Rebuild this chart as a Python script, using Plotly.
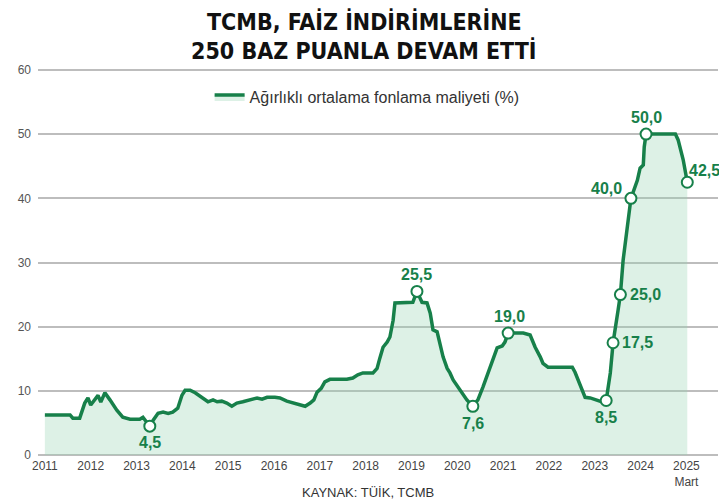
import plotly.graph_objects as go

# Decimal-year positions and values
years = [2011.00, 2011.55, 2011.61, 2011.76, 2011.87, 2011.94, 2012.00, 2012.16, 2012.22, 2012.31,
         2012.42, 2012.57, 2012.70, 2012.86, 2013.07, 2013.14, 2013.29, 2013.36, 2013.47, 2013.58,
         2013.69, 2013.79, 2013.90, 2013.99, 2014.06, 2014.17, 2014.28, 2014.43, 2014.56, 2014.67,
         2014.76, 2014.86, 2014.97, 2015.08, 2015.19, 2015.32, 2015.48, 2015.63, 2015.74, 2015.85,
         2016.02, 2016.13, 2016.28, 2016.41, 2016.57, 2016.68, 2016.79, 2016.87, 2016.94, 2017.03,
         2017.11, 2017.22, 2017.59, 2017.72, 2017.83, 2017.94, 2018.16, 2018.25, 2018.31, 2018.38,
         2018.47, 2018.53, 2018.60, 2018.64, 2019.03, 2019.12, 2019.23, 2019.34, 2019.41, 2019.47,
         2019.56, 2019.62, 2019.69, 2019.78, 2019.84, 2019.91, 2020.06, 2020.21, 2020.34, 2020.45,
         2020.56, 2020.72, 2020.87, 2020.98, 2021.04, 2021.11, 2021.22, 2021.44, 2021.59, 2021.70,
         2021.81, 2021.87, 2021.98, 2022.51, 2022.57, 2022.68, 2022.79, 2022.90, 2023.05, 2023.16,
         2023.25, 2023.34, 2023.38, 2023.40, 2023.51, 2023.56, 2023.62, 2023.71, 2023.79, 2023.93,
         2023.99, 2024.06, 2024.08, 2024.12, 2024.76, 2024.82, 2024.93, 2025.02]
rates = [6.25, 6.25, 5.75, 5.75, 8.1, 8.9, 7.8, 9.3, 8.25, 9.7,
         8.6, 7.0, 5.9, 5.6, 5.6, 5.9, 4.5, 5.4, 6.5, 6.7,
         6.5, 6.7, 7.3, 9.3, 10.1, 10.1, 9.7, 8.9, 8.3, 8.6,
         8.3, 8.4, 8.1, 7.6, 8.1, 8.3, 8.6, 8.9, 8.7, 9.0,
         9.0, 8.9, 8.4, 8.1, 7.8, 7.6, 8.1, 8.6, 9.8, 10.4,
         11.4, 11.8, 11.8, 12.0, 12.5, 12.8, 12.8, 13.5, 15.1, 16.8,
         17.6, 18.4, 21.0, 23.7, 23.8, 25.5, 23.8, 23.7, 22.1, 19.5,
         19.2, 17.4, 15.3, 13.5, 12.8, 11.7, 10.1, 8.6, 7.6, 8.6,
         10.6, 13.7, 16.7, 17.0, 17.6, 19.0, 19.0, 19.0, 18.7, 16.8,
         15.3, 14.3, 13.7, 13.7, 12.9, 10.9, 9.0, 8.9, 8.6, 8.3,
         8.5, 12.8, 15.9, 17.5, 22.6, 25.0, 30.4, 35.5, 40.0, 42.8,
         44.7, 45.2, 48.0, 50.0, 50.0, 49.1, 46.0, 42.5]

# Highlighted points
mark_years = [2013.29, 2019.12, 2020.34, 2021.11, 2023.25, 2023.40, 2023.56, 2023.79, 2024.12, 2025.02]
mark_rates = [4.5, 25.5, 7.6, 19.0, 8.5, 17.5, 25.0, 40.0, 50.0, 42.5]
mark_labels = ["4,5", "25,5", "7,6", "19,0", "8,5", "17,5", "25,0", "40,0", "50,0", "42,5"]

# label placement (style only): anchor, x shift, y shift in px
label_style = [("center", 0, -16), ("center", 0, 17), ("center", 0, -17), ("center", 1, 17),
               ("center", 0, -17), ("left", 7, 0), ("left", 8, 0), ("right", -7, 10),
               ("center", 0, 17), ("left", 0, 12)]

tick_years = list(range(2011, 2026))
tick_labels = [str(y) for y in range(2011, 2025)] + ["2025<br>Mart"]
y_ticks = [0, 10, 20, 30, 40, 50, 60]

GREEN = "#17804a"
FONT = "Liberation Sans, Arial, sans-serif"
TITLE_FONT = "Liberation Sans Narrow, DejaVu Sans Condensed, Roboto Condensed, Roboto, sans-serif"

fig = go.Figure()
fig.add_trace(go.Scatter(
    x=years, y=rates, mode="lines", name="Ağırlıklı ortalama fonlama maliyeti (%)",
    line=dict(color=GREEN, width=3.5),
    fill="tozeroy", fillcolor="rgba(150,210,178,0.32)",
))
fig.add_trace(go.Scatter(
    x=mark_years, y=mark_rates, mode="markers", showlegend=False,
    marker=dict(size=11, color="white", line=dict(color=GREEN, width=2)),
    cliponaxis=False,
))

annotations = []
for xv, yv, lab, (anc, dx, dy) in zip(mark_years, mark_rates, mark_labels, label_style):
    annotations.append(dict(
        x=xv, y=yv, xref="x", yref="y", text=f"<b>{lab}</b>", showarrow=False,
        xanchor=anc, yanchor="middle", xshift=dx, yshift=dy,
        font=dict(family=FONT, size=16, color=GREEN),
    ))

annotations += [
    dict(text="<b>TCMB, FAİZ İNDİRİMLERİNE</b>", xref="paper", yref="paper",
         x=0.48, y=1.1195, xanchor="center", yanchor="middle", showarrow=False,
         font=dict(family=TITLE_FONT, size=23, color="#111")),
    dict(text="<b>250 BAZ PUANLA DEVAM ETTİ</b>", xref="paper", yref="paper",
         x=0.48, y=1.044, xanchor="center", yanchor="middle", showarrow=False,
         font=dict(family=TITLE_FONT, size=23, color="#111")),
    dict(text="KAYNAK: TÜİK, TCMB", xref="paper", yref="paper",
         x=0.485, y=-0.0925, xanchor="center", yanchor="middle", showarrow=False,
         font=dict(family=FONT, size=13, color="#333")),
]

# page body has an 8px margin, so the figure is 8px smaller than the window
fig.update_layout(
    width=719, height=494,
    margin=dict(l=30, r=9, t=60, b=45, autoexpand=False),
    paper_bgcolor="white", plot_bgcolor="white",
    font=dict(family=FONT, color="#444", size=12),
    showlegend=True,
    legend=dict(x=0.484, y=0.925, xanchor="center", yanchor="middle",
                orientation="h", bgcolor="rgba(0,0,0,0)",
                font=dict(size=16, color="#333")),
    xaxis=dict(range=[2010.85, 2025.69], tickvals=tick_years, ticktext=tick_labels,
               showgrid=False, zeroline=False, showline=False, ticks="",
               tickfont=dict(size=12, color="#444"), automargin=False),
    yaxis=dict(range=[-0.3, 60.3], tickvals=y_ticks, showgrid=True,
               gridcolor="#bdbdbd", gridwidth=1.5, zeroline=False, ticks="",
               ticklabelstandoff=6,
               tickfont=dict(size=12, color="#555"), automargin=False),
    annotations=annotations,
)

fig.write_html("out.html")
